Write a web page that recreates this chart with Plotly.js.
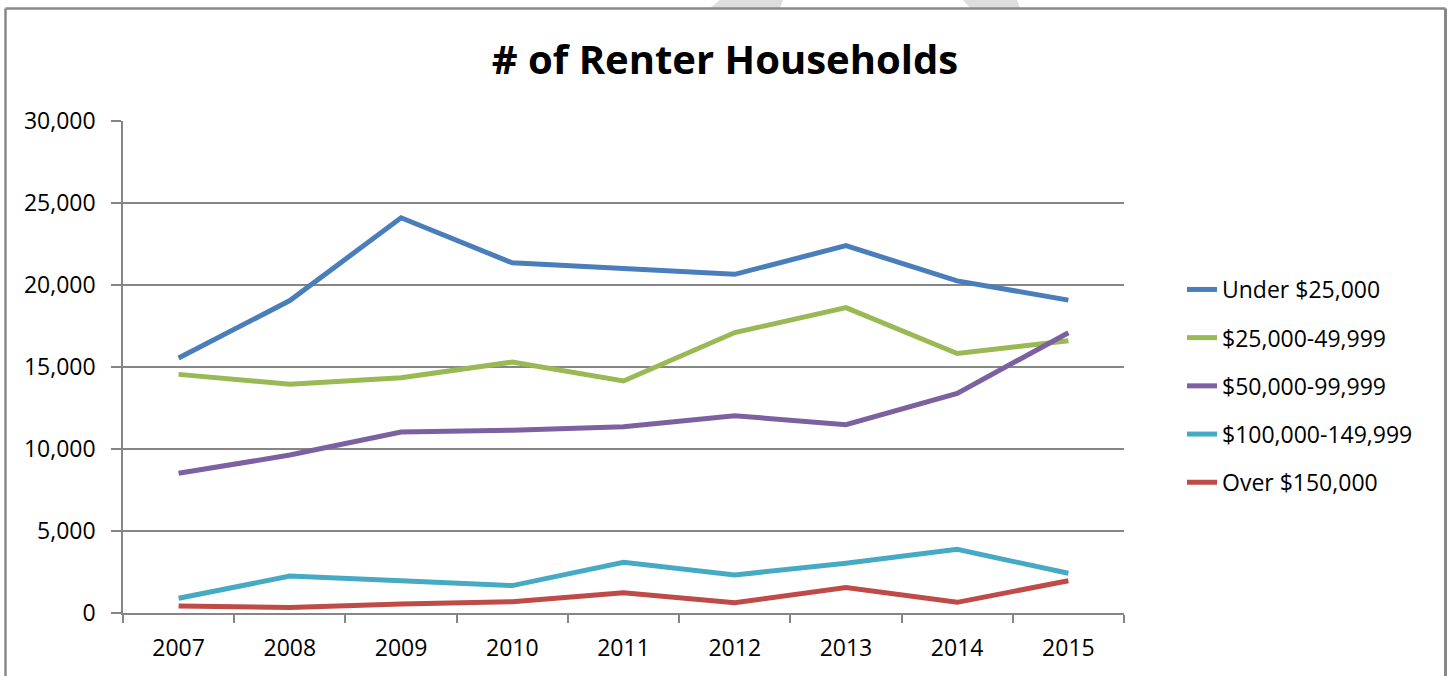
<!DOCTYPE html>
<html>
<head>
<meta charset="utf-8">
<script src="https://cdn.plot.ly/plotly-3.0.1.min.js"></script>
<style>
  html, body { margin: 0; padding: 0; background: #fff; }
  #chart { width: 1450px; height: 676px; }
</style>
</head>
<body>
<div id="chart"></div>
<script>
// ---- Data ----
const years = ["2007", "2008", "2009", "2010", "2011", "2012", "2013", "2014", "2015"];
const seriesNames = ["Under $25,000", "$25,000-49,999", "$50,000-99,999", "$100,000-149,999", "Over $150,000"];
const under25k   = [15550, 19050, 24100, 21350, 21000, 20650, 22400, 20250, 19080];
const k25to50    = [14550, 13950, 14350, 15300, 14150, 17100, 18620, 15820, 16600];
const k50to100   = [8520, 9630, 11040, 11150, 11350, 12030, 11480, 13390, 17090];
const k100to150  = [900, 2250, 1970, 1670, 3090, 2320, 3030, 3880, 2420];
const over150k   = [430, 330, 550, 690, 1240, 630, 1560, 650, 1970];
const seriesValues = [under25k, k25to50, k50to100, k100to150, over150k];
const seriesColors = ["#4A7EBB", "#98B954", "#7D60A0", "#46AAC5", "#BE4B48"];

// ---- Layout geometry ----
const W = 1450, H = 676;
const M = { l: 123, r: 326, t: 121, b: 63 };
const pw = W - M.l - M.r, ph = H - M.t - M.b;
const px = x => (x - M.l) / pw;           // pixel -> paper x
const py = y => (H - M.b - y) / ph;       // pixel -> paper y

const FONT = "Open Sans, Liberation Sans, Arial, sans-serif";
const AXIS_GREY = "#868686";

const traces = seriesNames.map((name, i) => ({
  type: "scatter",
  mode: "lines",
  name: name,
  x: years,
  y: seriesValues[i],
  legendgroup: "g" + i,
  line: { color: seriesColors[i], width: 5 },
  hoverinfo: "x+y+name"
}));

function poly(pts) {
  return "M" + pts.map(p => px(p[0]) + "," + py(p[1])).join(" L") + " Z";
}

const layout = {
  width: W, height: H,
  margin: M,
  paper_bgcolor: "#ffffff",
  plot_bgcolor: "#ffffff",
  font: { family: FONT, size: 23, color: "#000000" },
  title: {
    text: "<b># of Renter Households</b>",
    font: { family: FONT, size: 40, color: "#000000" },
    x: 0.5, xref: "container", xanchor: "center",
    y: 1 - 60 / H, yref: "container", yanchor: "middle"
  },
  xaxis: {
    type: "category",
    range: [-0.5, years.length - 0.5],
    showgrid: false,
    showline: true, linecolor: AXIS_GREY, linewidth: 1.5,
    ticks: "outside", tickson: "boundaries", ticklen: 8, tickcolor: AXIS_GREY, tickwidth: 1.5,
    tickfont: { family: FONT, size: 23, color: "#000" },
    ticklabelstandoff: 14,
    zeroline: false,
    fixedrange: true
  },
  yaxis: {
    range: [0, 30000],
    dtick: 5000,
    tickformat: ",d",
    showgrid: true, gridcolor: AXIS_GREY, gridwidth: 1.5,
    showline: true, linecolor: AXIS_GREY, linewidth: 1.5,
    ticks: "outside", ticklen: 10, tickcolor: AXIS_GREY, tickwidth: 1.5,
    tickfont: { family: FONT, size: 23, color: "#000" },
    ticklabelstandoff: 11,
    zeroline: false,
    fixedrange: true
  },
  showlegend: true,
  legend: {
    x: px(1182), xanchor: "left",
    y: py(268), yanchor: "top",
    traceorder: "grouped",
    tracegroupgap: 15.3,
    font: { family: FONT, size: 23, color: "#000" },
    bgcolor: "rgba(0,0,0,0)",
    borderwidth: 0,
    itemwidth: 30
  },
  shapes: [
    // faint watermark fragments at the top edge
    { type: "path", xref: "paper", yref: "paper", path: poly([[720, 0], [783, 0], [780, 8], [710, 8]]),
      fillcolor: "#dddddd", line: { width: 0 }, layer: "below" },
    { type: "path", xref: "paper", yref: "paper", path: poly([[963, 0], [1017, 0], [1020, 8], [970, 8]]),
      fillcolor: "#dddddd", line: { width: 0 }, layer: "below" },
    // chart-area border (left, top, right)
    { type: "line", xref: "paper", yref: "paper", x0: px(5.5), x1: px(5.5), y0: py(8.5), y1: py(700),
      line: { color: "#888888", width: 2.5 } },
    { type: "line", xref: "paper", yref: "paper", x0: px(5.5), x1: px(1445.5), y0: py(8.5), y1: py(8.5),
      line: { color: "#888888", width: 2.5 } },
    { type: "line", xref: "paper", yref: "paper", x0: px(1445.5), x1: px(1445.5), y0: py(8.5), y1: py(700),
      line: { color: "#888888", width: 3 } }
  ]
};

Plotly.newPlot("chart", traces, layout, { displayModeBar: false, staticPlot: false });
</script>
</body>
</html>
